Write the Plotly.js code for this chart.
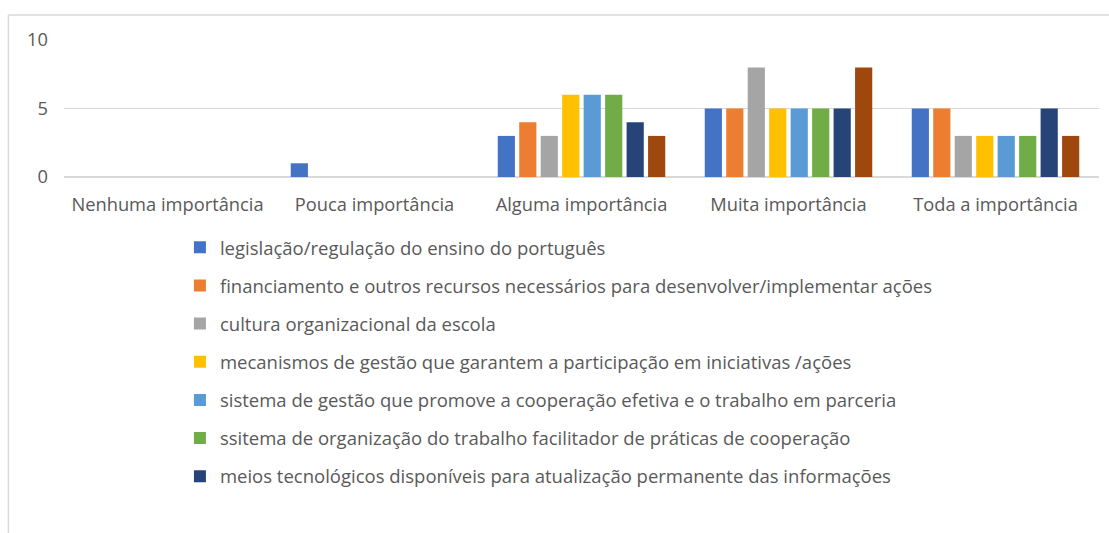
<!DOCTYPE html>
<html>
<head>
<meta charset="utf-8">
<script src="https://cdn.plot.ly/plotly-3.0.1.min.js"></script>
<style>
html,body{margin:0;padding:0;background:#fff;}
#chart{width:1109px;height:533px;}
</style>
</head>
<body>
<div id="chart"></div>
<script>
const categories = ["Nenhuma importância", "Pouca importância", "Alguma importância", "Muita importância", "Toda a importância"];
const seriesNames = [
  "legislação/regulação do ensino do português",
  "financiamento e outros recursos necessários para desenvolver/implementar ações",
  "cultura organizacional da escola",
  "mecanismos de gestão que garantem a participação em iniciativas /ações",
  "sistema de gestão que promove a cooperação efetiva e o trabalho em parceria",
  "ssitema de organização do trabalho facilitador de práticas de cooperação",
  "meios tecnológicos disponíveis para atualização permanente das informações",
  "série 8"
];
const s1 = [0, 1, 3, 5, 5];
const s2 = [0, 0, 4, 5, 5];
const s3 = [0, 0, 3, 8, 3];
const s4 = [0, 0, 6, 5, 3];
const s5 = [0, 0, 6, 5, 3];
const s6 = [0, 0, 6, 5, 3];
const s7 = [0, 0, 4, 5, 5];
const s8 = [0, 0, 3, 8, 3];
const seriesValues = [s1, s2, s3, s4, s5, s6, s7, s8];
const colors = ["#4472C4", "#ED7D31", "#A5A5A5", "#FFC000", "#5B9BD5", "#70AD47", "#264478", "#9E480E"];
const yTicks = [0, 5, 10];

const traces = seriesValues.map((vals, i) => ({
  type: "bar",
  x: categories,
  y: vals,
  name: seriesNames[i],
  legendgroup: "g" + i,
  showlegend: i < 7,
  marker: {color: colors[i], line: {width: 0}},
  hoverinfo: "x+y+name"
}));

const layout = {
  width: 1109,
  height: 533,
  margin: {l: 64, r: 10, t: 40, b: 355.5},
  paper_bgcolor: "#ffffff",
  plot_bgcolor: "#ffffff",
  font: {family: "Open Sans, sans-serif", color: "#595959", size: 16},
  barmode: "group",
  bargap: 0.17,
  bargroupgap: 0.2,
  showlegend: true,
  legend: {
    x: 0.112, xanchor: "left",
    y: -0.378, yanchor: "top",
    orientation: "v",
    traceorder: "grouped",
    tracegroupgap: 11.1,
    font: {family: "Open Sans, sans-serif", size: 18.5, color: "#595959"},
    itemwidth: 30,
    bgcolor: "rgba(0,0,0,0)"
  },
  xaxis: {
    type: "category",
    showgrid: false,
    showline: false,
    zeroline: false,
    ticks: "",
    tickfont: {family: "Open Sans, sans-serif", size: 18.3, color: "#595959"},
    ticklabelstandoff: 15
  },
  yaxis: {
    range: [0, 10],
    tickvals: yTicks,
    ticktext: yTicks.map(String),
    showgrid: true,
    gridcolor: "#d9d9d9",
    gridwidth: 1.5,
    zeroline: true,
    zerolinecolor: "#d9d9d9",
    zerolinewidth: 1.5,
    showline: false,
    ticks: "",
    tickfont: {family: "Open Sans, sans-serif", size: 18.3, color: "#595959"},
    ticklabelstandoff: 15,
    fixedrange: true
  },
  shapes: [
    {type: "line", xref: "paper", yref: "paper", x0: -0.0537, x1: 1.0097, y0: 1.1818, y1: 1.1818, line: {color: "#d9d9d9", width: 1.5}},
    {type: "line", xref: "paper", yref: "paper", x0: -0.0537, x1: -0.0537, y0: 1.1818, y1: -2.6, line: {color: "#d9d9d9", width: 1.5}}
  ]
};

Plotly.newPlot("chart", traces, layout, {displayModeBar: false, staticPlot: true});
</script>
</body>
</html>
